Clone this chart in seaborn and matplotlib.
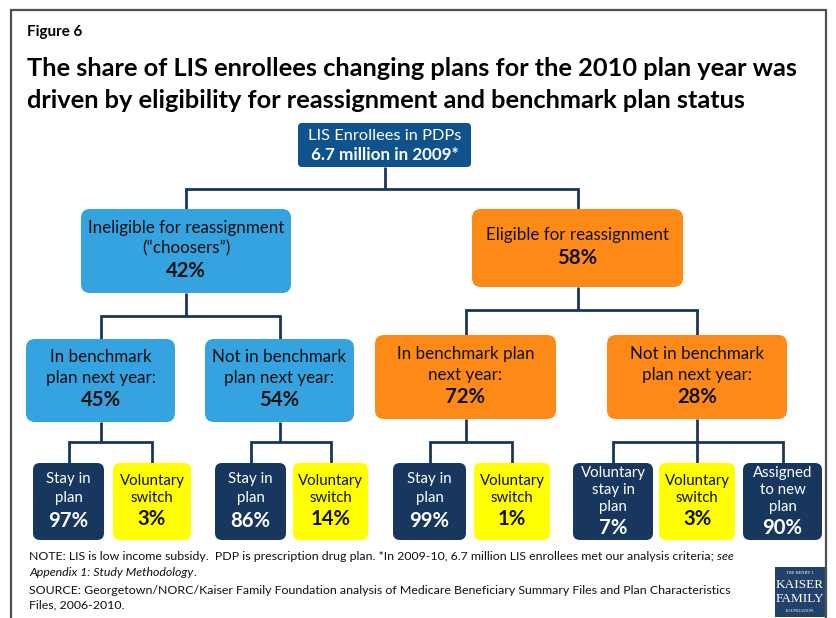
import matplotlib
matplotlib.use("Agg")
import matplotlib.pyplot as plt
import pandas as pd
import seaborn as sns
from matplotlib.patches import FancyBboxPatch, Rectangle
from matplotlib.font_manager import FontProperties
from matplotlib.textpath import TextToPath

# ---------------------------------------------------------------- data
figure_label = "Figure 6"
title_lines = [
    "The share of LIS enrollees changing plans for the 2010 plan year was",
    "driven by eligibility for reassignment and benchmark plan status",
]
root_lines = ["LIS Enrollees in PDPs", "6.7 million in 2009*"]

level1_labels = [["Ineligible for reassignment", "(\u201cchoosers\u201d)"],
                 ["Eligible for reassignment"]]
level1_pct = [42, 58]

level2_labels = [["In benchmark", "plan next year:"],
                 ["Not in benchmark", "plan next year:"],
                 ["In benchmark plan", "next year:"],
                 ["Not in benchmark", "plan next year:"]]
level2_pct = [45, 54, 72, 28]

level3_labels = [["Stay in", "plan"], ["Voluntary", "switch"],
                 ["Stay in", "plan"], ["Voluntary", "switch"],
                 ["Stay in", "plan"], ["Voluntary", "switch"],
                 ["Voluntary", "stay in", "plan"], ["Voluntary", "switch"],
                 ["Assigned", "to new", "plan"]]
level3_pct = [97, 3, 86, 14, 99, 1, 7, 3, 90]
level3_kind = ["stay", "switch", "stay", "switch", "stay", "switch",
               "stay", "switch", "stay"]

note_line1 = [("NOTE: LIS is low income subsidy.  PDP is prescription drug plan. "
               "*In 2009-10, 6.7 million LIS enrollees met our analysis criteria;", "normal"),
              ("see", "italic")]
note_line2 = [("Appendix 1: Study Methodology", "italic"), (".", "normal")]
source_lines = ["SOURCE: Georgetown/NORC/Kaiser Family Foundation analysis of Medicare "
                "Beneficiary Summary Files and Plan Characteristics",
                "Files, 2006-2010."]
logo_lines = ["THE HENRY J.", "KAISER", "FAMILY", "FOUNDATION"]

# ---------------------------------------------------------------- layout (pixels)
W, H, DPI = 836, 618, 100
FONT = "Lato"

root_box = (298, 123, 471, 167)
level1_boxes = [(81, 209, 291, 293), (472, 209, 683, 287)]
level2_boxes = [(26, 339, 175, 422), (205, 339, 354, 422),
                (375, 335, 556, 419), (607, 335, 787, 419)]
level3_boxes = [(33, 463, 104, 540), (113, 463, 191, 540),
                (215, 463, 286, 540), (293, 463, 368, 540),
                (393, 463, 466, 540), (474, 463, 550, 540),
                (573, 463, 653, 540), (659, 463, 735, 540),
                (743, 463, 822, 540)]
level3_parent = [0, 0, 1, 1, 2, 2, 3, 3, 3]
bar_y_root, bar_y_l1, bar_y_l3 = 189, [316, 310], 442

C_ROOT = "#0f528c"
C_LIGHT = "#34a3df"
C_ORANGE = "#fd8a17"
C_NAVY = "#17375e"
C_YELLOW = "#ffff00"
C_LINE = "#1b3658"
C_FRAME = "#505050"
C_LOGO = "#22426c"
C_TEXT = "#111111"

sns.set_theme(style="white")
plt.rcParams["font.family"] = [FONT, "DejaVu Sans"]

_t2p = TextToPath()


def width_px(text, size, weight="normal", style="normal", family=FONT):
    fp = FontProperties(family=family, weight=weight, style=style, size=size)
    return _t2p.get_text_width_height_descent(text, fp, ismath=False)[0] * DPI / 72


def fit_size(text, target_px, weight="normal", style="normal", family=FONT):
    return 10 * target_px / width_px(text, 10, weight, style, family)


S_FIG = fit_size(figure_label, 55, "bold")
S_TITLE = fit_size(title_lines[0], 773, "bold")
S_ROOT = fit_size(root_lines[0], 153)
S_ROOTB = fit_size(root_lines[1], 147, "bold")
S_BOX = fit_size("Not in benchmark", 134)
S_PCT = fit_size("45%", 40, "bold")
S_L3 = 0.5 * (fit_size("Voluntary", 62) + fit_size("Stay in", 47))
S_NOTE = fit_size(source_lines[0], 705)
S_LOGO = fit_size("KAISER", 48, "normal", family="Liberation Serif")

fig = plt.figure(figsize=(W / DPI, H / DPI), dpi=DPI)
ax = fig.add_axes([0, 0, 1, 1])
ax.set_xlim(0, W)
ax.set_ylim(H, 0)
renderer = fig.canvas.get_renderer()


def draw_box(b, color, r):
    x0, y0, x1, y1 = b
    ax.add_patch(FancyBboxPatch((x0, y0), x1 - x0, y1 - y0,
                                boxstyle=f"round,pad=0,rounding_size={r}",
                                fc=color, ec="none", zorder=2))


def draw_lines(b, lines, pct, color, size_reg, size_pct, gap_reg, gap_pct):
    x0, y0, x1, y1 = b
    cx = (x0 + x1) / 2
    n = len(lines)
    total = gap_reg * (n - 1) + gap_pct
    y = (y0 + y1) / 2 - 1.5 - total / 2
    for s in lines:
        ax.text(cx, y, s, ha="center", va="center", fontsize=size_reg,
                color=color, zorder=3)
        y += gap_reg
    y += gap_pct - gap_reg
    ax.text(cx, y, f"{pct}%", ha="center", va="center", fontsize=size_pct,
            fontweight="bold", color=color, zorder=3)


def run_of_text(x, y, pieces, size):
    """Place consecutive text pieces of differing style on one line."""
    space = width_px("a a", size) - width_px("aa", size)
    for k, (s, st) in enumerate(pieces):
        t = ax.text(x, y, s, ha="left", va="center", fontsize=size, style=st,
                    color=C_TEXT)
        bb = t.get_window_extent(renderer=renderer)
        x = x + bb.width
        if k + 1 < len(pieces) and pieces[k + 1][0][0].isalnum():
            x += space


# ---------------------------------------------------------------- connectors
segments = []


def elbow(parent, children, bar_y):
    px = (parent[0] + parent[2]) / 2
    cxs = [(c[0] + c[2]) / 2 for c in children]
    segments.append([(px, parent[3]), (px, bar_y)])
    segments.append([(cxs[0], children[0][1]), (cxs[0], bar_y),
                     (cxs[-1], bar_y), (cxs[-1], children[-1][1])])
    for c, cx in zip(children[1:-1], cxs[1:-1]):
        segments.append([(cx, bar_y), (cx, c[1])])


elbow(root_box, level1_boxes, bar_y_root)
elbow(level1_boxes[0], level2_boxes[:2], bar_y_l1[0])
elbow(level1_boxes[1], level2_boxes[2:], bar_y_l1[1])
for p in range(4):
    kids = [level3_boxes[i] for i in range(9) if level3_parent[i] == p]
    elbow(level2_boxes[p], kids, bar_y_l3)

rows = [{"seg": i, "order": j, "x": x, "y": y}
        for i, pts in enumerate(segments) for j, (x, y) in enumerate(pts)]
seg_df = pd.DataFrame(rows)
sns.lineplot(data=seg_df, x="x", y="y", units="seg", estimator=None, sort=False,
             color=C_LINE, lw=2.0, ax=ax, legend=False, zorder=1,
             solid_joinstyle="miter", solid_capstyle="butt")

# ---------------------------------------------------------------- boxes
draw_box(root_box, C_ROOT, 4)
cx = (root_box[0] + root_box[2]) / 2
ax.text(cx, 136, root_lines[0], ha="center", va="center", fontsize=S_ROOT,
        color="white", zorder=3)
ax.text(cx, 155, root_lines[1], ha="center", va="center", fontsize=S_ROOTB,
        fontweight="bold", color="white", zorder=3)

for b, lab, pct, col in zip(level1_boxes, level1_labels, level1_pct,
                            [C_LIGHT, C_ORANGE]):
    draw_box(b, col, 9)
    draw_lines(b, lab, pct, C_TEXT, S_BOX, S_PCT, 20.5, 23)

for b, lab, pct, col in zip(level2_boxes, level2_labels, level2_pct,
                            [C_LIGHT, C_LIGHT, C_ORANGE, C_ORANGE]):
    draw_box(b, col, 9)
    draw_lines(b, lab, pct, C_TEXT, S_BOX, S_PCT, 21, 22)

for b, lab, pct, kind in zip(level3_boxes, level3_labels, level3_pct, level3_kind):
    fc = C_NAVY if kind == "stay" else C_YELLOW
    tc = "white" if kind == "stay" else C_TEXT
    draw_box(b, fc, 7)
    if len(lab) == 3:
        draw_lines(b, lab, pct, tc, S_L3, S_PCT, 17.5, 20)
    elif kind == "stay":
        draw_lines(b, lab, pct, tc, S_L3, S_PCT, 19, 23)
    else:
        draw_lines(b, lab, pct, tc, S_L3, S_PCT, 17, 21)

# ---------------------------------------------------------------- titles
ax.text(27, 32, figure_label, ha="left", va="center", fontsize=S_FIG,
        fontweight="bold", color="black")
ax.text(27, 68, title_lines[0], ha="left", va="center", fontsize=S_TITLE,
        fontweight="bold", color="black")
ax.text(27, 100, title_lines[1], ha="left", va="center", fontsize=S_TITLE,
        fontweight="bold", color="black")

# ---------------------------------------------------------------- notes
nx = 29
run_of_text(nx, 557, note_line1, S_NOTE)
run_of_text(nx, 573, note_line2, S_NOTE)
ax.text(nx, 590, source_lines[0], ha="left", va="center", fontsize=S_NOTE,
        color=C_TEXT)
ax.text(nx, 605, source_lines[1], ha="left", va="center", fontsize=S_NOTE,
        color=C_TEXT)

# ---------------------------------------------------------------- logo
ax.add_patch(Rectangle((775, 567), 50, 50, fc=C_LOGO, ec="none", zorder=2))
for s, y, sz in zip(logo_lines, [573, 585, 599, 611],
                    [S_LOGO * 0.33, S_LOGO, S_LOGO, S_LOGO * 0.33]):
    ax.text(800, y, s, ha="center", va="center", fontsize=sz, color="white",
            family="Liberation Serif", zorder=3)

# ---------------------------------------------------------------- frame
ax.plot([11, 11], [10, H + 5], color=C_FRAME, lw=1.6)
ax.plot([11, 826], [10, 10], color=C_FRAME, lw=1.6)
ax.plot([826, 826], [10, H + 5], color=C_FRAME, lw=1.6)

ax.set_xlim(0, W)
ax.set_ylim(H, 0)
ax.axis("off")
fig.savefig("out.png", dpi=DPI, facecolor="white")
